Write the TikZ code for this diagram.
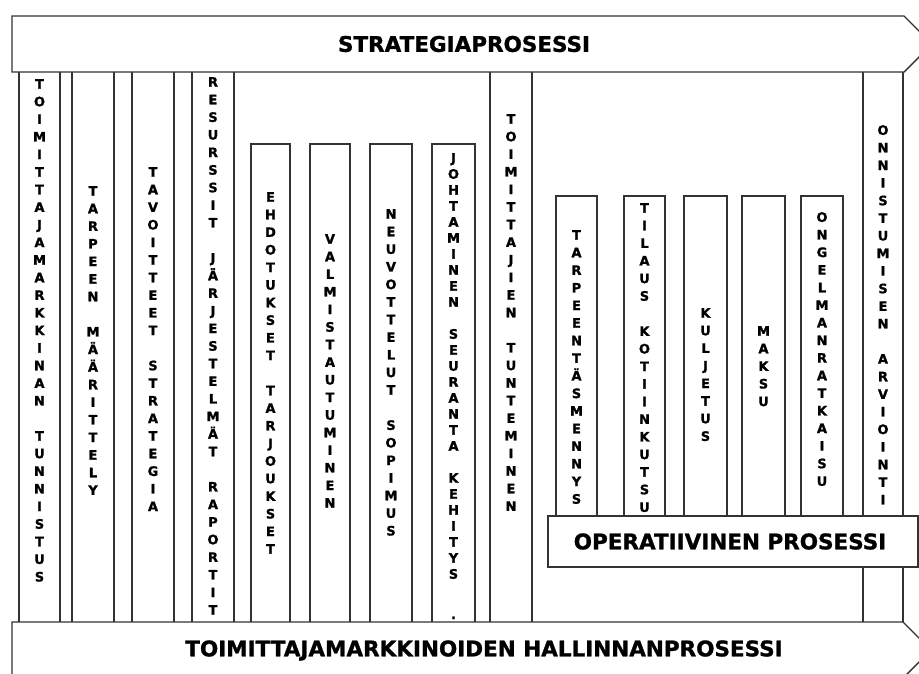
\documentclass[tikz,border=0pt]{standalone}
\usepackage{fontspec}
\newfontfamily\diagfont{DejaVu Sans Bold}[FakeBold=1.2]

% letters stacked one below the other, "|" gives an empty line
\newdimen\stkpitch
\stkpitch=17.6pt
\def\stk#1{\vbox{\baselineskip=\stkpitch\lineskiplimit=-\maxdimen\stkA#1\relax}}
\def\stkA#1{\ifx#1\relax\else\ifx#1|\hbox{}\else\hbox to 16pt{\hss#1\hss}\fi\expandafter\stkA\fi}

\tikzset{
  colbox/.style={draw=black!80, line width=1.4pt, fill=white},
  band/.style={draw=black!80, line width=1.4pt, fill=white},
  stack/.style={font=\diagfont\fontsize{13}{17.6}\selectfont, inner sep=0pt, anchor=north},
  title/.style={font=\diagfont\fontsize{21.5}{26}\selectfont, inner sep=0pt}
}

\begin{document}
\begin{tikzpicture}[x=1pt, y=-1pt]
   \useasboundingbox (0,0) rectangle (919,673);

   % Full height columns
   \foreach \xa/\xb/\ty/\txt [count=\i] in {
       19/60/79/TOIMITTAJAMARKKINAN|TUNNISTUS,
       72/114/186/TARPEEN|MÄÄRITTELY,
       132/174/167/TAVOITTEET|STRATEGIA,
       192/234/77/RESURSSIT|JÄRJESTELMÄT|RAPORTIT,
       490/532/114/TOIMITTAJIEN|TUNTEMINEN,
       863/903/125/ONNISTUMISEN|ARVIOINTI} {
       \draw[colbox] (\xa,60) rectangle (\xb,640);
       \node[stack] (col\i) at ({(\xa+\xb)/2},\ty) {\expandafter\stk\expandafter{\txt}};
   }

   % Sourcing steps
   \foreach \xa/\xb/\ty/\txt [count=\i] in {
       251/290/192/EHDOTUKSET|TARJOUKSET,
       310/350/234/VALMISTAUTUMINEN,
       370/412/209/NEUVOTTELUT|SOPIMUS} {
       \draw[colbox] (\xa,144) rectangle (\xb,640);
       \node[stack] (sourcing\i) at ({(\xa+\xb)/2},\ty) {\expandafter\stk\expandafter{\txt}};
   }
   \draw[colbox] (432,144) rectangle (475,640);
   \node[stack] (sourcing4) at (453.5,153) {\stkpitch=16pt\stk{JOHTAMINEN|SEURANTA|KEHITYS}};
   \node[stack, anchor=base] (piste) at (453.5,619) {.};

   % Operative steps
   \foreach \xa/\xb/\ty/\txt [count=\i] in {
       556/597/230/TARPEENTÄSMENNYS,
       624/665/203/TILAUS|KOTIINKUTSU,
       684/727/308/KULJETUS,
       742/785/326/MAKSU,
       801/843/212/ONGELMANRATKAISU} {
       \draw[colbox] (\xa,196) rectangle (\xb,540);
       \node[stack] (ops\i) at ({(\xa+\xb)/2},\ty) {\expandafter\stk\expandafter{\txt}};
   }

   % Process bands
   \draw[band] (548,516) rectangle (918,567);
   \node[title] (operatiivinen) at (730,541.5) {OPERATIIVINEN PROSESSI};

   \draw[band] (12,16) -- (904,16) -- (932,44) -- (904,72) -- (12,72) -- cycle;
   \node[title] (strategia) at (464,44) {STRATEGIAPROSESSI};

   \draw[band] (12,622) -- (903,622) -- (931,650) -- (903,678) -- (12,678) -- cycle;
   \node[title] (hallinta) at (484,650.5) {TOIMITTAJAMARKKINOIDEN HALLINNANPROSESSI};
\end{tikzpicture}
\end{document}
